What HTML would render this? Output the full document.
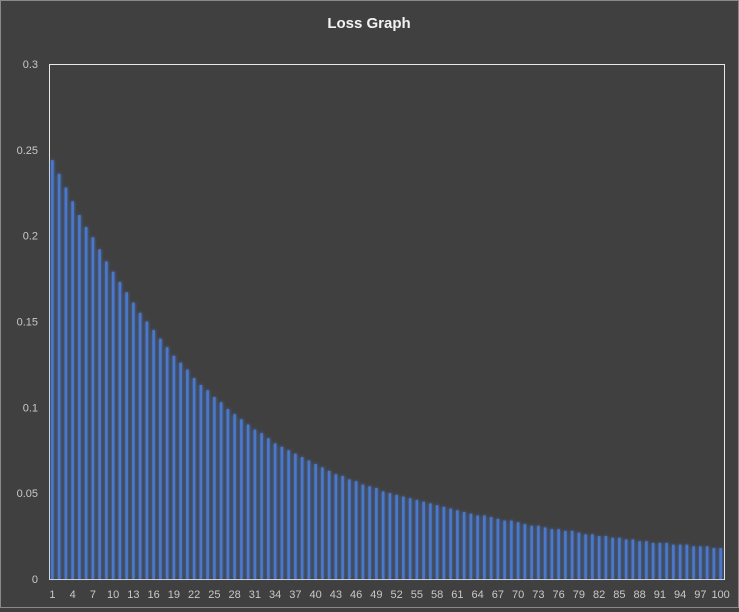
<!DOCTYPE html>
<html><head><meta charset="utf-8"><style>
html,body{margin:0;padding:0;background:#404040;}
#wrap{position:relative;width:739px;height:608px;background:#404040;box-sizing:border-box;border:1px solid #8a8a8a;font-family:"Liberation Sans",sans-serif;}
</style></head><body>
<div id="wrap">
<svg id="chart" width="737" height="606"></svg>
</div>
<script>
const categories = Array.from({length:100},(_,i)=>String(i+1));
const lossValues = [0.244,0.236,0.228,0.220,0.212,0.205,0.199,0.192,0.185,0.179,
0.173,0.167,0.161,0.155,0.150,0.145,0.140,0.135,0.130,0.126,
0.122,0.117,0.113,0.110,0.106,0.103,0.099,0.096,0.093,0.090,
0.087,0.085,0.082,0.079,0.077,0.075,0.073,0.071,0.069,0.067,
0.065,0.063,0.061,0.060,0.058,0.057,0.055,0.054,0.053,0.051,
0.050,0.049,0.048,0.047,0.046,0.045,0.044,0.043,0.042,0.041,
0.040,0.039,0.038,0.037,0.037,0.036,0.035,0.034,0.034,0.033,
0.032,0.031,0.031,0.030,0.029,0.029,0.028,0.028,0.027,0.026,
0.026,0.025,0.025,0.024,0.024,0.023,0.023,0.022,0.022,0.021,
0.021,0.021,0.020,0.020,0.020,0.019,0.019,0.019,0.018,0.018];
const yTicks = [0,0.05,0.1,0.15,0.2,0.25,0.3];
const yTickLabels = ["0","0.05","0.1","0.15","0.2","0.25","0.3"];

const NS="http://www.w3.org/2000/svg";
const svg=document.getElementById('chart');
const L=48,R=723,T=63,B=578,yMax=0.3;
const y=v=>B-(v/yMax)*(B-T);
const step=(R-L)/categories.length;
const x=i=>L+step*(i+0.5);
function mk(tag,attrs){const e=document.createElementNS(NS,tag);for(const k in attrs)e.setAttribute(k,attrs[k]);svg.appendChild(e);return e;}

const defs=mk('defs',{});
defs.innerHTML='<filter id="glow" x="-200%" y="-5%" width="500%" height="110%"><feGaussianBlur stdDeviation="1.6" result="b"/><feMerge><feMergeNode in="b"/><feMergeNode in="SourceGraphic"/></feMerge></filter>';

const title=mk('text',{x:368,y:27,'text-anchor':'middle',fill:'#f2f2f2','font-size':'15','font-weight':'bold'});
title.textContent='Loss Graph';



const frame=mk('rect',{x:L+0.5,y:T+0.5,width:R-L,height:B-T,fill:'none',stroke:'#e8e8e8','stroke-width':1});



yTicks.forEach((t,k)=>{
  const tx=mk('text',{x:37,y:y(t)+4,'text-anchor':'end',fill:'#c8c8c8','font-size':'11'});
  tx.textContent=yTickLabels[k];
  
  
});

lossValues.forEach((v,i)=>{
  const bw=2.6;
  const r=mk('rect',{x:x(i)-bw/2,y:y(v),width:bw,height:B-y(v),fill:'#4a78cc',filter:'url(#glow)'});
  
  
});

categories.forEach((c,i)=>{
  if(i%3!==0)return;
  const tx=mk('text',{x:x(i),y:597,'text-anchor':'middle',fill:'#c8c8c8','font-size':'11'});
  tx.textContent=c;
  
  
});
const base=mk('line',{x1:L,x2:R,y1:B+0.5,y2:B+0.5,stroke:'#d0d0d0','stroke-width':1});


</script>
</body></html>
